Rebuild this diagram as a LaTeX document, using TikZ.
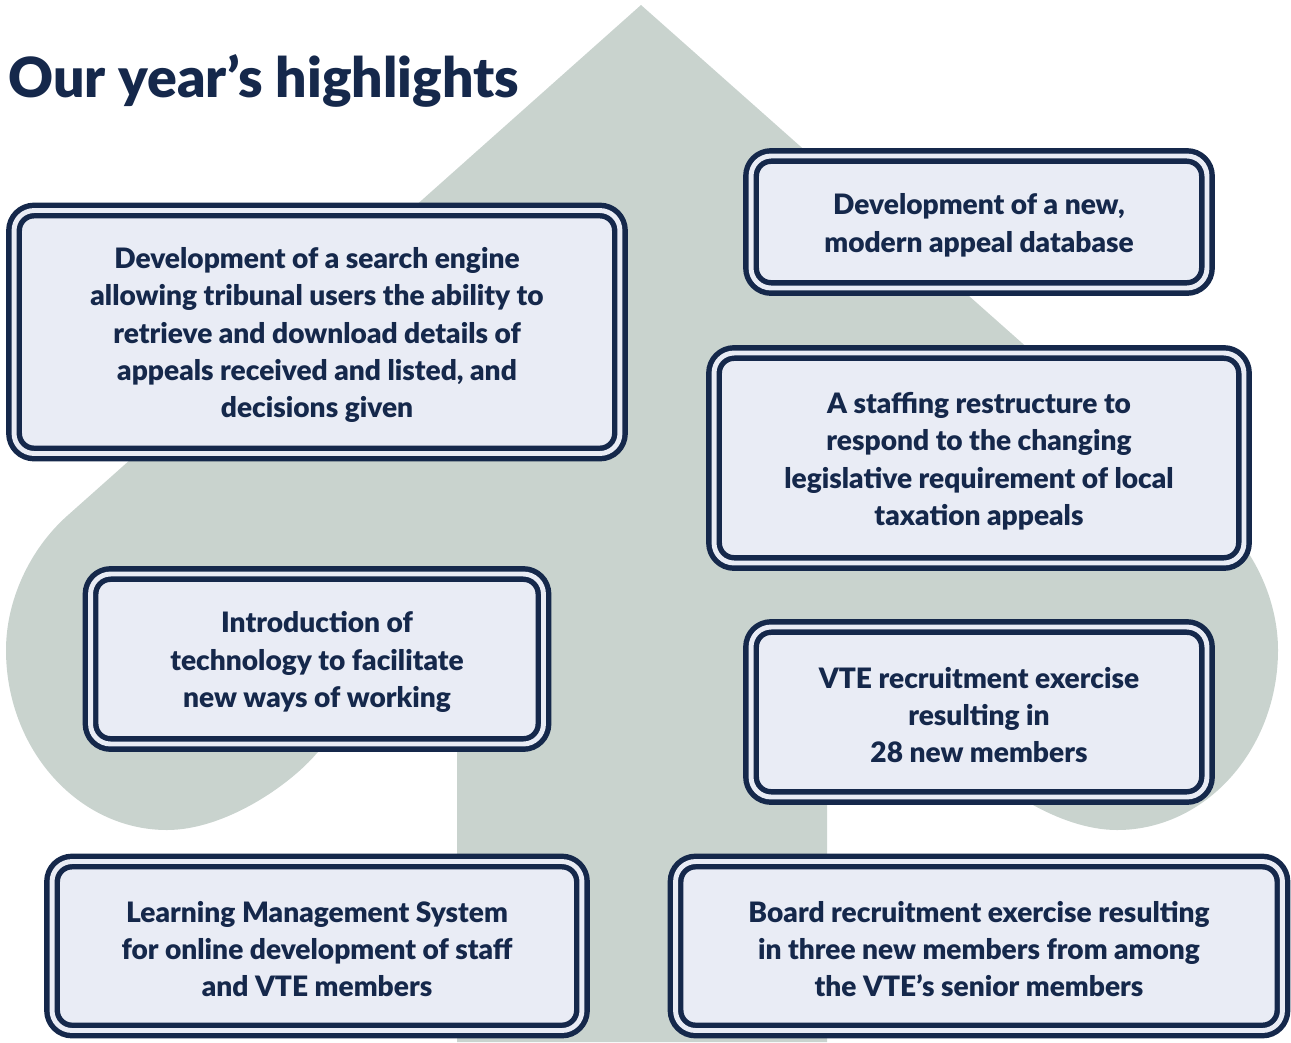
\documentclass[tikz,border=0pt]{standalone}
\usepackage{fontspec}
\setmainfont{Lato}[BoldFont={Lato Black}]
\definecolor{navy}{HTML}{15284B}
\definecolor{boxfill}{HTML}{E9ECF5}
\definecolor{spadegrey}{HTML}{C9D3CE}
\newcommand\topgap{\rule{0pt}{15.5pt}}
\tikzset{
  hlbox/.style={draw=navy, line width=3.1pt, double=boxfill, double distance=2.8pt,
    fill=boxfill, rounded corners=0.4cm, align=center, inner sep=0pt, text=navy,
    font=\bfseries\fontsize{16}{21.3}\selectfont},
  headline/.style={text=navy, inner sep=0pt, font=\bfseries\fontsize{31.5}{36}\selectfont},
}
\begin{document}
\begin{tikzpicture}[x=0.02cm, y=-0.02cm]
  \useasboundingbox (0,0) rectangle (1291,1042);
  % the spade shape behind the boxes
  \fill[spadegrey] (641,5) -- (67,516) .. controls (30,549) and (6,600) .. (6,650)
    .. controls (6,749) and (78,830) .. (167,830) .. controls (225,830) and (290,785) .. (317,753)
    .. controls (360,715) and (457,690) .. (457,620) -- (457,1042) -- (827,1042) -- (827,620)
    .. controls (827,690) and (924,715) .. (967,753) .. controls (994,785) and (1059,830) .. (1117,830)
    .. controls (1206,830) and (1278,749) .. (1278,650) .. controls (1278,600) and (1254,549) .. (1217,516)
    -- cycle;
  \node[headline, anchor=base west] (title) at (8,97) {Our year’s highlights};
  % left column
  \node[hlbox, minimum width=12.12cm, minimum height=4.86cm] (search) at (317,332)
    {\topgap Development of a search engine\\allowing tribunal users the ability to\\retrieve and download details of\\appeals received and listed, and\\decisions given};
  \node[hlbox, minimum width=9.06cm, minimum height=3.4cm] (technology) at (317,659)
    {\topgap Introduction of\\technology to facilitate\\new ways of working};
  \node[hlbox, minimum width=10.6cm, minimum height=3.38cm] (learning) at (317,946)
    {\topgap Learning Management System\\for online development of staff\\and VTE members};
  % right column
  \node[hlbox, minimum width=9.12cm, minimum height=2.64cm] (database) at (979,222)
    {\topgap Development of a new,\\modern appeal database};
  \node[hlbox, minimum width=10.6cm, minimum height=4.2cm] (staffing) at (979,458)
    {\topgap A staffing restructure to\\respond to the changing\\legislative requirement of local\\taxation appeals};
  \node[hlbox, minimum width=9.12cm, minimum height=3.4cm] (recruit) at (979,712)
    {\topgap VTE recruitment exercise\\resulting in\\28 new members};
  \node[hlbox, minimum width=12.14cm, minimum height=3.38cm] (board) at (979,946)
    {\topgap Board recruitment exercise resulting\\in three new members from among\\the VTE’s senior members};
\end{tikzpicture}
\end{document}
